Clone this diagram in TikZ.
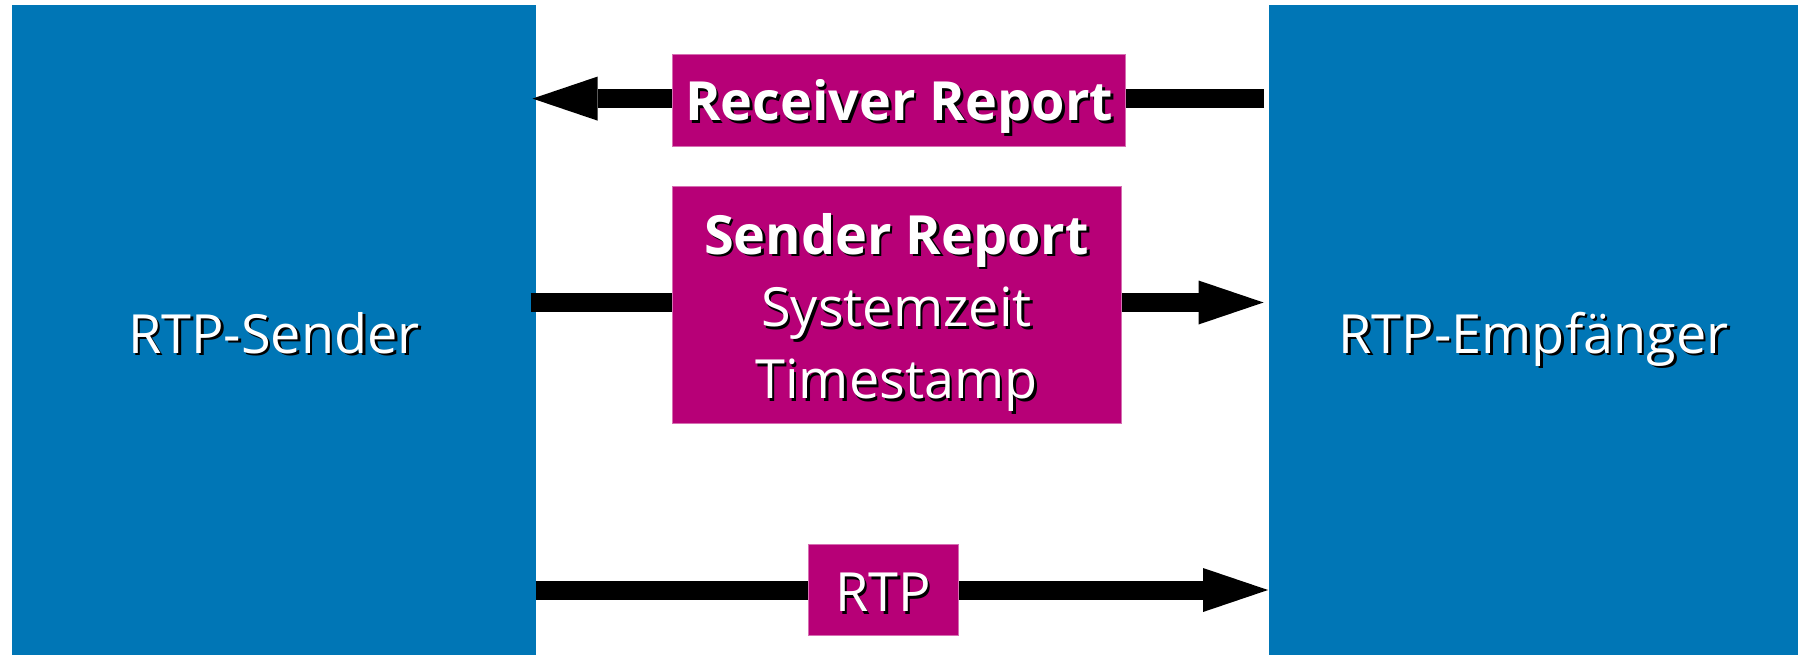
\documentclass[tikz,border=0pt]{standalone}
\usepackage{fontspec}
\setmainfont{Open Sans}
\usetikzlibrary{arrows.meta,backgrounds}

\definecolor{rtpblue}{RGB}{0,118,182}
\definecolor{rtpmagenta}{RGB}{183,0,119}
\definecolor{magentaedge}{RGB}{214,110,178}

% white lettering with a black drop shadow
\newcommand\shtxt[1]{\rlap{\kern2.6pt\raisebox{-2.6pt}{\color{black}#1}}#1}

\tikzset{
  endpoint/.style={fill=rtpblue, inner sep=0pt, outer sep=0pt},
  packet/.style={fill=rtpmagenta, draw=magentaedge, line width=0.8pt, inner sep=0pt, outer sep=0pt},
  lbl/.style={text=white, inner sep=0pt, anchor=base, font=\fontsize{54}{64}\selectfont},
  boldlbl/.style={lbl, font=\fontsize{54}{64}\selectfont\bfseries},
  flow/.style={line width=19pt, -{Triangle[length=65pt,width=44pt,line width=0pt]}},
}

\begin{document}
\begin{tikzpicture}[x=1pt,y=-1pt]
  \useasboundingbox (0,0) rectangle (1798,655);

  % RTCP and RTP packets
  \node[packet, minimum width=453pt, minimum height=92pt] (rr) at (898.5,100) {};
  \node[packet, minimum width=449pt, minimum height=237pt] (sr) at (896.5,304.5) {};
  \node[packet, minimum width=150pt, minimum height=91pt] (rtp) at (883,590) {};

  \begin{pgfonlayer}{background}
    % sender and receiver blocks
    \node[endpoint, minimum width=524pt, minimum height=650pt] (L) at (273.5,330) {};
    \node[endpoint, minimum width=529pt, minimum height=650pt] (R) at (1533.5,330) {};
    % flows between the endpoints, running behind the packets
    \draw[flow] ([xshift=-5pt,yshift=1.4pt]R.west |- rr.center) -- ([xshift=-3pt,yshift=1.4pt]L.east |- rr.center);
    \draw[flow] ([xshift=-5pt,yshift=2pt]L.east |- sr.center) -- ([xshift=-5.5pt,yshift=2pt]R.west |- sr.center);
    \draw[flow] (L.east |- rtp.center) -- ([xshift=-1pt]R.west |- rtp.center);
  \end{pgfonlayer}

  \node[lbl] (Ltext) at (274,353) {\shtxt{RTP-Sender}};
  \node[lbl] (Rtext) at (1533.5,353) {\shtxt{RTP-Empfänger}};

  \node[boldlbl] (rrtext) at (899,120.5) {\shtxt{Receiver Report}};
  \node[boldlbl] (srtext) at (896.5,254) {\shtxt{Sender Report}};
  \node[lbl] (systime) at (896.5,326.5) {\shtxt{Systemzeit}};
  \node[lbl] (tstamp) at (896.5,398.5) {\shtxt{Timestamp}};
  \node[lbl] (rtptext) at (883,611.5) {\shtxt{RTP}};
\end{tikzpicture}
\end{document}
